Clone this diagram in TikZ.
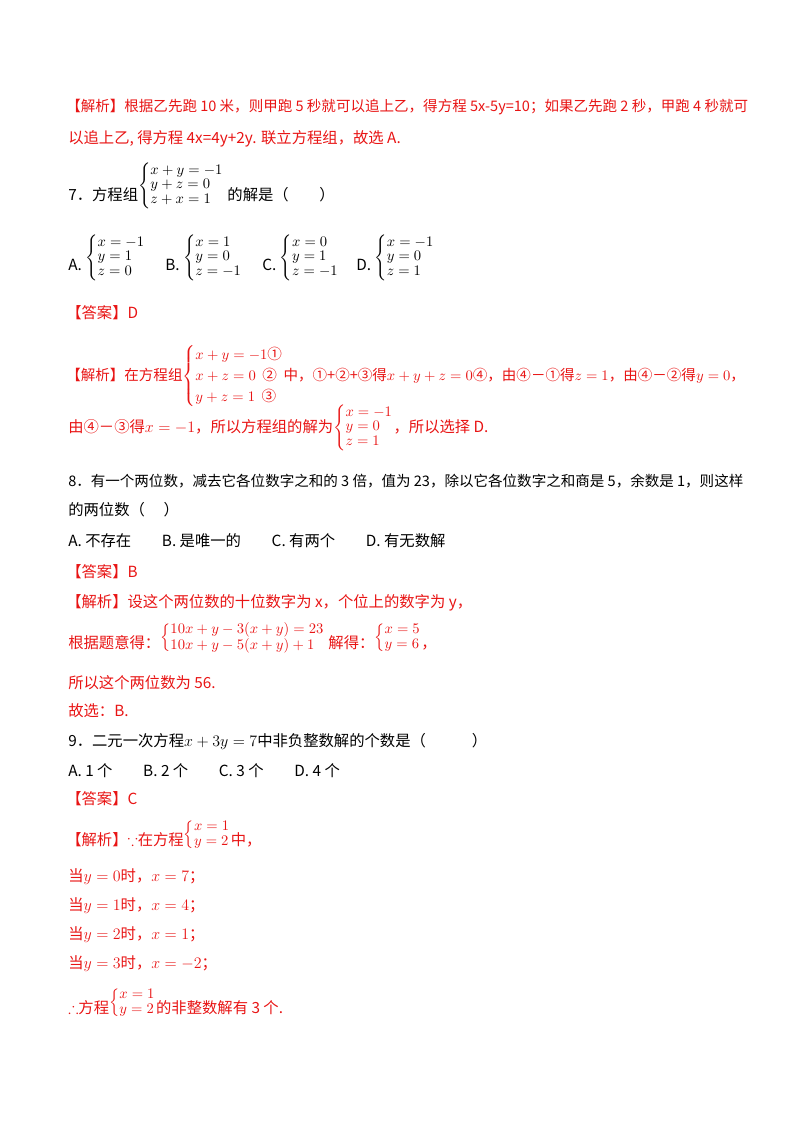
\documentclass[tikz,border=0pt,12pt]{standalone}
\usepackage{amsmath,amssymb}
\usepackage{fontspec}
\setmainfont{Noto Sans CJK SC}
\usetikzlibrary{positioning}
\definecolor{ansred}{RGB}{232,20,20}
\newcommand{\sys}[1]{$\small\renewcommand{\arraystretch}{0.8}\left\{\begin{array}{@{}l@{}}#1\end{array}\right.$}
\tikzset{
  txt/.style={anchor=base west,inner sep=0pt,font=\fontsize{11.5}{13}\selectfont},
  ans/.style={txt,text=ansred},
  longline/.style={font=\fontsize{10.9}{13}\selectfont}
}
\begin{document}
\begin{tikzpicture}[x=0.75pt,y=-0.75pt]
  \useasboundingbox (0,0) rectangle (800,1132);
  %question 6 analysis
  \node[ans,longline] (a1) at (66,111) {【解析】根据乙先跑 10 米，则甲跑 5 秒就可以追上乙，得方程 5x-5y=10；如果乙先跑 2 秒，甲跑 4 秒就可};
  \node[ans] (a2) at (68,143) {以追上乙, 得方程 4x=4y+2y. 联立方程组，故选 A.};
  %question 7
  \node[txt] (q7) at (68,200) {7．方程组\raisebox{1.2ex}{\sys{x+y=-1\\ y+z=0\\ z+x=1}} 的解是（\quad\quad）};
  \node[txt] (o7a) at (68,270) {A.\ \raisebox{1ex}{\sys{x=-1\\ y=1\\ z=0}}};
  \node[txt] (o7b) at (165,270) {B.\ \raisebox{1ex}{\sys{x=1\\ y=0\\ z=-1}}};
  \node[txt] (o7c) at (262,270) {C.\ \raisebox{1ex}{\sys{x=0\\ y=1\\ z=-1}}};
  \node[txt] (o7d) at (356,270) {D.\ \raisebox{1ex}{\sys{x=-1\\ y=0\\ z=1}}};
  \node[ans] (k7) at (66,318) {【答案】D};
  \node[ans,longline] (e7) at (66,380) {【解析】在方程组\sys{x+y=-1\text{①}\\[3pt] x+z=0\ \ \text{②}\\[3pt] y+z=1\ \ \text{③}}中，①+②+③得$x+y+z=0$④，由④－①得$z=1$，由④－②得$y=0$，};
  \node[ans] (f7) at (68,432) {由④－③得$x=-1$，所以方程组的解为\sys{x=-1\\ y=0\\ z=1}，所以选择 D.};
  %question 8
  \node[txt,longline] (q8) at (68,486) {8．有一个两位数，减去它各位数字之和的 3 倍，值为 23，除以它各位数字之和商是 5，余数是 1，则这样};
  \node[txt] (q8b) at (68,515) {的两位数（\quad\ ）};
  \node[txt] (o8) at (68,546) {A. 不存在\qquad B. 是唯一的\qquad C. 有两个\qquad D. 有无数解};
  \node[ans] (k8) at (66,577) {【答案】B};
  \node[ans] (e8) at (66,607) {【解析】设这个两位数的十位数字为 x，个位上的数字为 y，};
  \node[ans] (f8) at (68,648) {根据题意得：\raisebox{0.7ex}{\sys{10x+y-3(x+y)=23\\ 10x+y-5(x+y)+1}}\ 解得：\raisebox{0.7ex}{\sys{x=5\\ y=6}}，};
  \node[ans] (g8) at (68,688) {所以这个两位数为 56.};
  \node[ans] (h8) at (68,716) {故选：B.};
  %question 9
  \node[txt] (q9) at (68,746) {9．二元一次方程$x+3y=7$中非负整数解的个数是（\qquad\quad）};
  \node[txt] (o9) at (68,776) {A.\ 1 个\qquad B.\ 2 个\qquad C.\ 3 个\qquad D.\ 4 个};
  \node[ans] (k9) at (66,804) {【答案】C};
  \node[ans] (e9) at (66,845) {【解析】$\because$在方程\raisebox{0.7ex}{\sys{x=1\\ y=2}}中，};
  \foreach \yv/\xv [count=\i] in {0/7,1/4,2/1,3/-2}
    \node[ans] (w\i) at (68,{852+29*\i}) {当$y=\yv$时，$x=\xv$；};
  \node[ans] (t9) at (68,1013) {$\therefore$方程\raisebox{0.7ex}{\sys{x=1\\ y=2}}的非整数解有 3 个.};
\end{tikzpicture}
\end{document}
